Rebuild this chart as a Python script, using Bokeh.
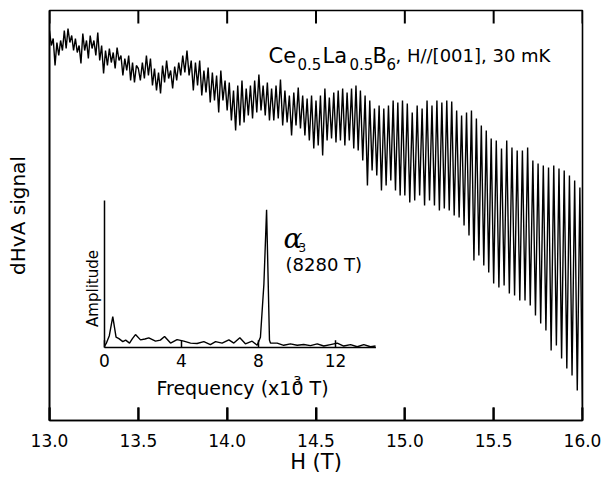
import numpy as np
from math import pi
from bokeh.plotting import figure
from bokeh.models import (Range1d, LinearAxis, FixedTicker, Label,
                          NumeralTickFormatter)
from bokeh.core.properties import value
from bokeh.embed import file_html
from bokeh.resources import INLINE

# ---------------- data: main dHvA trace (extrema) ----------------
seg_edges = [13.0, 13.25, 13.5, 13.75, 14.0, 14.25, 14.5, 14.75, 15.0, 15.25, 15.5, 15.75, 16.0]
sig_13_00 = [390, 375, 382, 355, 378, 365, 380, 370, 390, 372, 392, 378, 385, 370, 382, 368, 375, 357, 387, 370, 380, 362, 385, 372]
sig_13_25 = [380, 365, 388, 360, 375, 347, 370, 355, 372, 358, 368, 352, 373, 360, 365, 345, 362, 350, 365, 340, 358, 338, 355]
sig_13_50 = [352, 340, 358, 342, 365, 345, 362, 335, 352, 330, 348, 327, 355, 338, 360, 342, 350, 332, 354, 340, 358, 345]
sig_13_75 = [365, 348, 370, 345, 360, 330, 358, 335, 360, 325, 350, 328, 353, 318, 348, 320, 345, 308, 350, 320, 340]
sig_14_00 = [310, 338, 300, 330, 290, 335, 295, 340, 298, 332, 305, 335, 302, 340, 308, 346, 310, 335, 305, 338, 300]
sig_14_25 = [332, 300, 335, 302, 341, 295, 330, 298, 325, 285, 328, 295, 333, 292, 325, 285, 322, 280, 325, 272]
sig_14_50 = [320, 275, 325, 265, 332, 280, 323, 282, 328, 278, 330, 280, 332, 275, 328, 280, 332, 272, 335, 270]
sig_14_75 = [330, 260, 325, 235, 320, 250, 312, 245, 315, 230, 312, 235, 315, 240, 320, 230, 318, 225, 320]
sig_15_00 = [225, 317, 218, 308, 220, 315, 225, 312, 215, 320, 220, 315, 215, 320, 210, 318, 212, 320]
sig_15_25 = [210, 319, 205, 310, 203, 305, 195, 308, 185, 310, 160, 302, 165, 295, 155, 290, 148, 282]
sig_15_50 = [137, 280, 133, 272, 135, 280, 127, 273, 125, 270, 120, 270, 120, 273, 115, 260, 105]
sig_15_75 = [257, 97, 255, 90, 253, 70, 255, 75, 252, 62, 250, 52, 245, 45, 240, 30, 233, 5]
segments = [sig_13_00, sig_13_25, sig_13_50, sig_13_75, sig_14_00, sig_14_25,
            sig_14_50, sig_14_75, sig_15_00, sig_15_25, sig_15_50, sig_15_75]

h_ticks = [13.0, 13.5, 14.0, 14.5, 15.0, 15.5, 16.0]

# ---------------- data: inset FFT spectrum ----------------
freq = [0.0, 0.1, 0.25, 0.43, 0.6, 0.75, 0.95, 1.1, 1.3, 1.45,
        1.61, 1.87, 2.1, 2.3, 2.65, 2.9, 3.12, 3.43, 3.77, 4.12,
        4.47, 4.81, 5.16, 5.5, 5.77, 6.11, 6.46, 6.72, 7.03, 7.32,
        7.67, 7.93, 8.1, 8.28, 8.42, 8.57, 8.62, 8.97, 9.31, 9.66,
        10.01, 10.35, 10.7, 11.05, 11.39, 11.74, 12.09, 12.43, 12.78, 13.13,
        13.47, 13.82, 14.08]
amp = [0.01, 0.03, 0.08, 0.21, 0.07, 0.06, 0.04, 0.05, 0.03, 0.06,
       0.088, 0.052, 0.058, 0.066, 0.043, 0.05, 0.075, 0.03, 0.054, 0.043,
       0.03, 0.027, 0.04, 0.02, 0.04, 0.03, 0.052, 0.03, 0.066, 0.025,
       0.043, 0.015, 0.07, 0.43, 0.937, 0.05, 0.03, 0.03, 0.015, 0.025,
       0.015, 0.02, 0.013, 0.025, 0.01, 0.02, 0.03, 0.01, 0.02, 0.005,
       0.02, 0.005, 0.01]
inset_ticks = [0, 4, 8, 12]
inset_freq_max = 14.1
inset_amp_max = 1.0

# ---------------- build arrays ----------------
H = []
sig = []
for i, seg in enumerate(segments):
    last = (i == len(segments) - 1)
    H.extend(np.linspace(seg_edges[i], seg_edges[i + 1], len(seg), endpoint=last).tolist())
    sig.extend(seg)

# ---------------- layout helpers (page px -> data) ----------------
W, HT = 601, 478
FL, FR, FT, FB = 49, 582, 10, 420          # frame edges on the page
Y_TOP = FB - FT
def X(px):
    return 13.0 + (px - FL) * 3.0 / (FR - FL)
def Y(py):
    return float(FB - py)

FONT = "DejaVu Sans"

p = figure(width=W, height=HT, x_range=Range1d(13.0, 16.0), y_range=Range1d(0, Y_TOP),
           output_backend="svg", toolbar_location=None, y_axis_location=None,
           min_border_left=FL, min_border_right=W - FR, min_border_top=FT,
           min_border_bottom=HT - FB)
p.grid.visible = False
p.outline_line_color = "black"
p.outline_line_width = 1.6
p.background_fill_color = "white"
p.border_fill_color = "white"

xa = p.xaxis[0]
xa.ticker = FixedTicker(ticks=h_ticks)
xa.formatter = NumeralTickFormatter(format="0.0")
xa.major_tick_in = 13
xa.major_tick_out = 0
xa.minor_tick_line_color = None
xa.axis_line_width = 1.6
xa.major_tick_line_width = 2
xa.major_tick_line_color = "black"
xa.major_label_standoff = 13
xa.major_label_text_font = FONT
xa.major_label_text_font_size = "17px"
xa.major_label_text_color = "black"
xa.axis_label = "H (T)"
xa.axis_label_standoff = 0
xa.axis_label_text_font = FONT
xa.axis_label_text_font_size = "21px"
xa.axis_label_text_font_style = "normal"
xa.axis_label_text_color = "black"

left = LinearAxis(ticker=FixedTicker(ticks=[]))
left.major_tick_in = 0
left.major_tick_out = 0
left.minor_tick_line_color = None
left.major_tick_line_color = None
left.axis_line_color = "black"
left.axis_line_width = 1.6
left.major_label_text_font_size = "0px"
left.major_label_text_color = None
left.major_label_standoff = 0
left.axis_label = "dHvA signal"
left.axis_label_standoff = 20
left.axis_label_text_font = FONT
left.axis_label_text_font_size = "20px"
left.axis_label_text_font_style = "normal"
left.axis_label_text_color = "black"
p.add_layout(left, "left")

# inward tick marks on bottom and top edges, at the axis tick values
tick_len = 13
n = len(h_ticks)
p.segment(x0=h_ticks, y0=[0] * n, x1=h_ticks, y1=[tick_len] * n,
          line_color="black", line_width=2)
p.segment(x0=h_ticks, y0=[Y_TOP] * n, x1=h_ticks, y1=[Y_TOP - tick_len] * n,
          line_color="black", line_width=2)

# main trace
p.line(H, sig, line_color="black", line_width=1.4)

# ---------------- inset (own scales on the same canvas) ----------------
px_per_f = 19.25
f0_px = 104
base_py = 347
px_per_amp = 147
p.extra_x_ranges = {"fx": Range1d((FL - f0_px) / px_per_f, (FR - f0_px) / px_per_f)}
p.extra_y_ranges = {"amp": Range1d(-(FB - base_py) / px_per_amp, (base_py - FT) / px_per_amp)}

p.segment(x0=[0, 0], y0=[0, 0], x1=[inset_freq_max, 0], y1=[0, inset_amp_max],
          x_range_name="fx", y_range_name="amp", line_color="black", line_width=1.5)
p.segment(x0=inset_ticks, y0=[0] * len(inset_ticks), x1=inset_ticks,
          y1=[0.05] * len(inset_ticks), x_range_name="fx", y_range_name="amp",
          line_color="black", line_width=1.5)
p.line(freq, amp, x_range_name="fx", y_range_name="amp", line_color="black", line_width=1.4)
p.text(x=inset_ticks, y=[-0.045] * len(inset_ticks), text=[str(t) for t in inset_ticks],
       x_range_name="fx", y_range_name="amp", text_align="center", text_baseline="top",
       text_font=value(FONT), text_font_size=value("17px"), text_color="black")

def lab(txt, px, py, size, align="left", baseline="alphabetic", angle=0, font=FONT, style="normal"):
    p.add_layout(Label(x=X(px), y=Y(py), text=txt, text_font=font, text_font_size=size,
                       text_align=align, text_baseline=baseline, angle=angle,
                       text_font_style=style, text_color="black"))

# inset labels
lab("Frequency (x10 T)", 242, 387, "19px", align="center")
lab("3", 297, 380, "13px", align="center")
lab("Amplitude", 92, 288, "15px", align="center", baseline="middle", angle=pi / 2)
lab("\u03b1", 283, 238, "28px", font="DejaVu Serif", style="italic")
lab("3", 298, 247, "12px")
lab("(8280 T)", 285, 264, "18px")

# title
lab("Ce", 268, 55, "21px")
lab("0.5", 297, 63, "15px")
lab("La", 322, 55, "21px")
lab("0.5", 349, 63, "15px")
lab("B", 372, 55, "21px")
lab("6", 386, 63, "15px")
lab(", H//[001], 30 mK", 395, 55, "18px")

open("out.html", "w").write(file_html(p, INLINE))
